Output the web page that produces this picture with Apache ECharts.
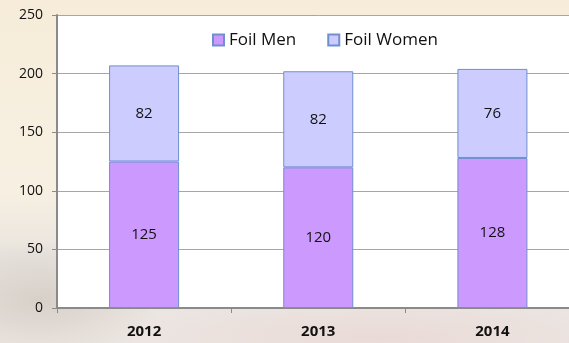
<!DOCTYPE html>
<html>
<head>
<meta charset="utf-8">
<script src="https://cdn.jsdelivr.net/npm/echarts@6/dist/echarts.min.js"></script>
<style>
  html, body { margin: 0; padding: 0; }
  body {
    width: 569px; height: 343px; overflow: hidden;
    background:
      radial-gradient(ellipse 120px 60px at 40px 300px, rgba(200,190,180,0.55), rgba(200,190,180,0) 100%),
      radial-gradient(ellipse 260px 40px at 380px 338px, rgba(232,208,206,0.55), rgba(232,208,206,0) 100%),
      linear-gradient(180deg, #f6ecd9 0%, #f7f0e2 55%, #e9e4df 75%, #ece6e2 100%);
  }
  /* the plot runs a little past the right edge of the page */
  #chart { width: 580px; height: 343px; }
</style>
</head>
<body>
<div id="chart"></div>
<script>
  const years = ['2012', '2013', '2014'];
  const foilMen = [125, 120, 128];
  const foilWomen = [82, 82, 76];
  const yTicks = { min: 0, max: 250, interval: 50 };

  const chart = echarts.init(document.getElementById('chart'), null, { renderer: 'canvas' });

  const font = 'Open Sans, sans-serif';
  const labelStyle = {
    show: true,
    position: 'inside',
    color: '#111',
    fontSize: 15,
    fontFamily: font
  };

  chart.setOption({
    backgroundColor: 'transparent',
    animation: false,
    grid: {
      left: 57, right: 0.5, top: 15, bottom: 35,
      show: true, backgroundColor: '#ffffff', borderWidth: 0
    },
    legend: {
      top: 25, left: 207,
      itemWidth: 11, itemHeight: 11, itemGap: 31,
      icon: 'rect',
      textStyle: { fontSize: 17, lineHeight: 20, color: '#111', fontFamily: font },
      data: ['Foil Men', 'Foil Women']
    },
    xAxis: {
      type: 'category',
      data: years,
      axisLine: { lineStyle: { color: '#8a8a8a', width: 2 } },
      axisTick: { show: true, length: 5, lineStyle: { color: '#8a8a8a' } },
      axisLabel: { fontWeight: 'bold', fontSize: 15, color: '#111', margin: 16, fontFamily: font }
    },
    yAxis: {
      type: 'value',
      min: yTicks.min, max: yTicks.max, interval: yTicks.interval,
      axisLine: { show: true, lineStyle: { color: '#8a8a8a', width: 2 } },
      axisTick: { show: true, length: 5, lineStyle: { color: '#8a8a8a' } },
      axisLabel: { fontSize: 14, color: '#111', margin: 14, fontFamily: font },
      splitLine: { lineStyle: { color: '#a6a6a6', width: 1 } }
    },
    series: [
      {
        name: 'Foil Men', type: 'bar', stack: 'foil',
        data: foilMen, barWidth: 70,
        itemStyle: { color: '#cc99ff', borderColor: '#6f8fcf', borderWidth: 1 },
        label: labelStyle
      },
      {
        name: 'Foil Women', type: 'bar', stack: 'foil',
        data: foilWomen, barWidth: 70,
        itemStyle: { color: '#ccccff', borderColor: '#6f8fcf', borderWidth: 1 },
        label: labelStyle
      }
    ]
  });
</script>
</body>
</html>
